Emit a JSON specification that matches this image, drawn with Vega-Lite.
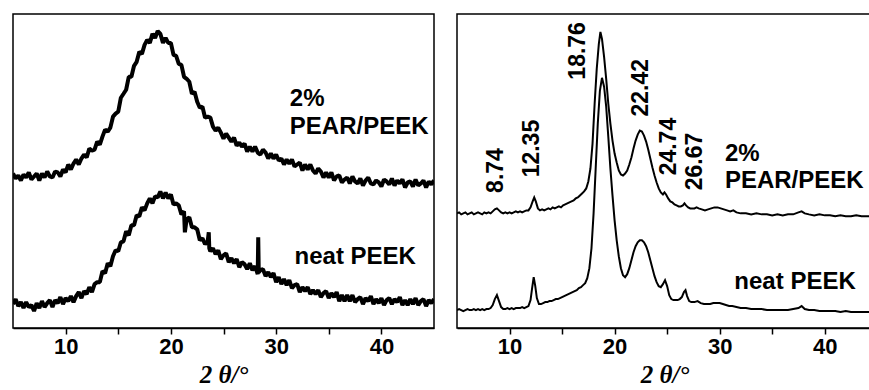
{
  "$schema": "https://vega.github.io/schema/vega-lite/v6.json",
  "background": "white",
  "padding": {"left": 12, "top": 13, "right": 0, "bottom": 0},
  "spacing": 21,
  "config": {
    "view": {"stroke": "black", "strokeWidth": 1.5},
    "axis": {"domainColor": "black", "domainWidth": 1.5, "tickColor": "black", "tickWidth": 1.5, "tickSize": 6, "grid": false,
      "labelFont": "Liberation Sans", "labelFontWeight": "bold", "labelFontSize": 22, "labelColor": "black", "labelPadding": 2,
      "titleFont": "Liberation Serif", "titleFontStyle": "italic", "titleFontWeight": "bold", "titleFontSize": 25, "titleColor": "black", "titlePadding": 5}
  },
  "datasets": {
    "la": [
      {"x":5,"y":155},{"x":5.25,"y":150},{"x":5.5,"y":153},{"x":5.75,"y":148},{"x":6,"y":154},{"x":6.25,"y":151},{"x":6.5,"y":156},{"x":6.75,"y":149},{"x":7,"y":152},{"x":7.25,"y":155},
      {"x":7.5,"y":148},{"x":7.75,"y":155},{"x":8,"y":151},{"x":8.25,"y":157},{"x":8.5,"y":152},{"x":8.75,"y":151},{"x":9,"y":157},{"x":9.25,"y":156},{"x":9.5,"y":152},{"x":9.75,"y":159},
      {"x":10,"y":156},{"x":10.25,"y":164},{"x":10.5,"y":159},{"x":10.75,"y":165},{"x":11,"y":169},{"x":11.25,"y":164},{"x":11.5,"y":170},{"x":11.75,"y":174},{"x":12,"y":171},{"x":12.25,"y":180},
      {"x":12.5,"y":178},{"x":12.75,"y":179},{"x":13,"y":187},{"x":13.25,"y":184},{"x":13.5,"y":192},{"x":13.75,"y":199},{"x":14,"y":197},{"x":14.25,"y":201},{"x":14.5,"y":212},{"x":14.75,"y":215},
      {"x":15,"y":217},{"x":15.25,"y":231},{"x":15.5,"y":235},{"x":15.75,"y":239},{"x":16,"y":252},{"x":16.25,"y":252},{"x":16.5,"y":263},{"x":16.75,"y":267},{"x":17,"y":277},{"x":17.25,"y":275},
      {"x":17.5,"y":284},{"x":17.75,"y":289},{"x":18,"y":286},{"x":18.25,"y":295},{"x":18.5,"y":291},{"x":18.75,"y":298},{"x":19,"y":295},{"x":19.25,"y":286},{"x":19.5,"y":291},{"x":19.75,"y":286},
      {"x":20,"y":286},{"x":20.25,"y":274},{"x":20.5,"y":273},{"x":20.75,"y":265},{"x":21,"y":264},{"x":21.25,"y":252},{"x":21.5,"y":250},{"x":21.75,"y":247},{"x":22,"y":235},{"x":22.25,"y":237},
      {"x":22.5,"y":227},{"x":22.75,"y":221},{"x":23,"y":222},{"x":23.25,"y":211},{"x":23.5,"y":212},{"x":23.75,"y":211},{"x":24,"y":202},{"x":24.25,"y":198},{"x":24.5,"y":201},{"x":24.75,"y":196},
      {"x":25,"y":190},{"x":25.25,"y":195},{"x":25.5,"y":191},{"x":25.75,"y":187},{"x":26,"y":191},{"x":26.25,"y":183},{"x":26.5,"y":186},{"x":26.75,"y":182},{"x":27,"y":185},{"x":27.25,"y":177},
      {"x":27.5,"y":182},{"x":27.75,"y":177},{"x":28,"y":182},{"x":28.25,"y":176},{"x":28.5,"y":174},{"x":28.75,"y":179},{"x":29,"y":176},{"x":29.25,"y":170},{"x":29.5,"y":175},{"x":29.75,"y":170},
      {"x":30,"y":174},{"x":30.25,"y":168},{"x":30.5,"y":170},{"x":30.75,"y":164},{"x":31,"y":169},{"x":31.25,"y":165},{"x":31.5,"y":169},{"x":31.75,"y":162},{"x":32,"y":164},{"x":32.25,"y":166},
      {"x":32.5,"y":158},{"x":32.75,"y":164},{"x":33,"y":159},{"x":33.25,"y":164},{"x":33.5,"y":158},{"x":33.75,"y":155},{"x":34,"y":160},{"x":34.25,"y":157},{"x":34.5,"y":151},{"x":34.75,"y":156},
      {"x":35,"y":151},{"x":35.25,"y":156},{"x":35.5,"y":148},{"x":35.75,"y":152},{"x":36,"y":153},{"x":36.25,"y":146},{"x":36.5,"y":149},{"x":36.75,"y":151},{"x":37,"y":145},{"x":37.25,"y":152},
      {"x":37.5,"y":147},{"x":37.75,"y":145},{"x":38,"y":150},{"x":38.25,"y":143},{"x":38.5,"y":148},{"x":38.75,"y":151},{"x":39,"y":145},{"x":39.25,"y":144},{"x":39.5,"y":148},{"x":39.75,"y":146},
      {"x":40,"y":142},{"x":40.25,"y":149},{"x":40.5,"y":147},{"x":40.75,"y":144},{"x":41,"y":150},{"x":41.25,"y":143},{"x":41.5,"y":148},{"x":41.75,"y":145},{"x":42,"y":149},{"x":42.25,"y":141},
      {"x":42.5,"y":146},{"x":42.75,"y":147},{"x":43,"y":142},{"x":43.25,"y":149},{"x":43.5,"y":143},{"x":43.75,"y":145},{"x":44,"y":148},{"x":44.25,"y":141},{"x":44.5,"y":147},{"x":44.75,"y":144},
      {"x":45,"y":148}
    ],
    "lb": [
      {"x":5,"y":24},{"x":5.25,"y":29},{"x":5.5,"y":22},{"x":5.75,"y":26},{"x":6,"y":20},{"x":6.25,"y":26},{"x":6.5,"y":21},{"x":6.75,"y":23},{"x":7,"y":17},{"x":7.25,"y":25},
      {"x":7.5,"y":20},{"x":7.75,"y":27},{"x":8,"y":21},{"x":8.25,"y":25},{"x":8.5,"y":28},{"x":8.75,"y":21},{"x":9,"y":28},{"x":9.25,"y":25},{"x":9.5,"y":31},{"x":9.75,"y":24},
      {"x":10,"y":30},{"x":10.25,"y":27},{"x":10.5,"y":32},{"x":10.75,"y":26},{"x":11,"y":32},{"x":11.25,"y":36},{"x":11.5,"y":30},{"x":11.75,"y":37},{"x":12,"y":34},{"x":12.25,"y":41},
      {"x":12.5,"y":36},{"x":12.75,"y":44},{"x":13,"y":46},{"x":13.25,"y":46},{"x":13.5,"y":57},{"x":13.75,"y":55},{"x":14,"y":65},{"x":14.25,"y":62},{"x":14.5,"y":72},{"x":14.75,"y":78},
      {"x":15,"y":77},{"x":15.25,"y":86},{"x":15.5,"y":87},{"x":15.75,"y":97},{"x":16,"y":93},{"x":16.25,"y":103},{"x":16.5,"y":103},{"x":16.75,"y":113},{"x":17,"y":112},{"x":17.25,"y":121},
      {"x":17.5,"y":118},{"x":17.75,"y":125},{"x":18,"y":130},{"x":18.25,"y":125},{"x":18.5,"y":132},{"x":18.75,"y":131},{"x":19,"y":137},{"x":19.25,"y":130},{"x":19.5,"y":136},{"x":19.75,"y":130},
      {"x":20,"y":134},{"x":20.25,"y":124},{"x":20.5,"y":125},{"x":20.75,"y":123},{"x":21,"y":114},{"x":21.25,"y":117},{"x":21.33,"y":96},{"x":21.5,"y":109},{"x":21.75,"y":111},{"x":22,"y":101},{"x":22.25,"y":101},
      {"x":22.5,"y":99},{"x":22.75,"y":88},{"x":23,"y":90},{"x":23.25,"y":84},{"x":23.5,"y":87},{"x":23.6,"y":96},{"x":23.65,"y":80},{"x":23.75,"y":77},{"x":24,"y":80},{"x":24.25,"y":74},{"x":24.5,"y":78},{"x":24.75,"y":69},
      {"x":25,"y":73},{"x":25.25,"y":75},{"x":25.5,"y":66},{"x":25.75,"y":70},{"x":26,"y":65},{"x":26.25,"y":69},{"x":26.5,"y":61},{"x":26.75,"y":66},{"x":27,"y":64},{"x":27.25,"y":59},
      {"x":27.5,"y":65},{"x":27.75,"y":58},{"x":28,"y":62},{"x":28.25,"y":54},{"x":28.3,"y":91},{"x":28.35,"y":56},{"x":28.5,"y":58},{"x":28.75,"y":59},{"x":29,"y":52},{"x":29.25,"y":56},{"x":29.5,"y":51},{"x":29.75,"y":55},
      {"x":30,"y":46},{"x":30.25,"y":51},{"x":30.5,"y":44},{"x":30.75,"y":49},{"x":31,"y":43},{"x":31.25,"y":48},{"x":31.5,"y":40},{"x":31.75,"y":43},{"x":32,"y":44},{"x":32.25,"y":36},
      {"x":32.5,"y":41},{"x":32.75,"y":37},{"x":33,"y":41},{"x":33.25,"y":34},{"x":33.5,"y":38},{"x":33.75,"y":34},{"x":34,"y":38},{"x":34.25,"y":31},{"x":34.5,"y":35},{"x":34.75,"y":37},
      {"x":35,"y":30},{"x":35.25,"y":35},{"x":35.5,"y":31},{"x":35.75,"y":36},{"x":36,"y":27},{"x":36.25,"y":33},{"x":36.5,"y":27},{"x":36.75,"y":33},{"x":37,"y":27},{"x":37.25,"y":33},
      {"x":37.5,"y":26},{"x":37.75,"y":29},{"x":38,"y":31},{"x":38.25,"y":24},{"x":38.5,"y":30},{"x":38.75,"y":27},{"x":39,"y":32},{"x":39.25,"y":24},{"x":39.5,"y":29},{"x":39.75,"y":25},
      {"x":40,"y":30},{"x":40.25,"y":23},{"x":40.5,"y":28},{"x":40.75,"y":30},{"x":41,"y":24},{"x":41.25,"y":29},{"x":41.5,"y":26},{"x":41.75,"y":31},{"x":42,"y":23},{"x":42.25,"y":28},
      {"x":42.5,"y":23},{"x":42.75,"y":29},{"x":43,"y":24},{"x":43.25,"y":30},{"x":43.5,"y":23},{"x":43.75,"y":27},{"x":44,"y":29},{"x":44.25,"y":22},{"x":44.5,"y":28},{"x":44.75,"y":25},
      {"x":45,"y":29}
    ],
    "lt": [
      {"x":31.3,"y":230,"t":"2%"},
      {"x":31.3,"y":202,"t":"PEAR/PEEK"},
      {"x":31.75,"y":71,"t":"neat PEEK"}
    ],
    "ra": [
      {"x":5,"y":115},{"x":5.2,"y":116},{"x":5.4,"y":114},{"x":5.6,"y":115},{"x":5.8,"y":116},{"x":6,"y":114},{"x":6.2,"y":115},{"x":6.4,"y":116},{"x":6.6,"y":114},{"x":6.8,"y":115},
      {"x":7,"y":116},{"x":7.2,"y":115},{"x":7.4,"y":114},{"x":7.6,"y":116},{"x":7.8,"y":115},{"x":8,"y":116},{"x":8.2,"y":115},{"x":8.4,"y":117},{"x":8.6,"y":119},{"x":8.8,"y":120},
      {"x":9,"y":118},{"x":9.2,"y":116},{"x":9.4,"y":115},{"x":9.6,"y":116},{"x":9.8,"y":115},{"x":10,"y":116},{"x":10.2,"y":115},{"x":10.4,"y":116},{"x":10.6,"y":117},{"x":10.8,"y":116},
      {"x":11,"y":117},{"x":11.2,"y":116},{"x":11.4,"y":117},{"x":11.6,"y":118},{"x":11.8,"y":118},{"x":12,"y":121},{"x":12.2,"y":127},{"x":12.35,"y":131},{"x":12.5,"y":127},{"x":12.7,"y":120},
      {"x":12.9,"y":118},{"x":13.1,"y":119},{"x":13.3,"y":118},{"x":13.5,"y":119},{"x":13.7,"y":120},{"x":13.9,"y":119},{"x":14.1,"y":121},{"x":14.3,"y":120},{"x":14.5,"y":121},{"x":14.7,"y":122},
      {"x":14.9,"y":121},{"x":15.1,"y":123},{"x":15.3,"y":124},{"x":15.5,"y":125},{"x":15.7,"y":126},{"x":15.9,"y":127},{"x":16.1,"y":128},{"x":16.3,"y":130},{"x":16.5,"y":131},{"x":16.7,"y":133},
      {"x":16.9,"y":135},{"x":17.1,"y":137},{"x":17.3,"y":140},{"x":17.5,"y":147},{"x":17.7,"y":160},{"x":17.9,"y":185},{"x":18.1,"y":225},{"x":18.3,"y":260},{"x":18.5,"y":285},{"x":18.65,"y":297},
      {"x":18.8,"y":290},{"x":19,"y":272},{"x":19.2,"y":250},{"x":19.4,"y":225},{"x":19.6,"y":205},{"x":19.8,"y":188},{"x":20,"y":175},{"x":20.2,"y":166},{"x":20.4,"y":158},{"x":20.6,"y":154},
      {"x":20.8,"y":153},{"x":21,"y":155},{"x":21.2,"y":158},{"x":21.4,"y":164},{"x":21.6,"y":171},{"x":21.8,"y":180},{"x":22,"y":188},{"x":22.2,"y":194},{"x":22.4,"y":198},{"x":22.6,"y":197},
      {"x":22.8,"y":193},{"x":23,"y":187},{"x":23.2,"y":179},{"x":23.4,"y":170},{"x":23.6,"y":161},{"x":23.8,"y":153},{"x":24,"y":146},{"x":24.2,"y":140},{"x":24.4,"y":136},{"x":24.6,"y":134},
      {"x":24.75,"y":136},{"x":24.9,"y":134},{"x":25.1,"y":130},{"x":25.3,"y":127},{"x":25.5,"y":126},{"x":25.7,"y":124},{"x":25.9,"y":123},{"x":26.1,"y":122},{"x":26.3,"y":122},{"x":26.5,"y":123},
      {"x":26.65,"y":125},{"x":26.8,"y":123},{"x":27,"y":121},{"x":27.2,"y":120},{"x":27.4,"y":120},{"x":27.6,"y":120},{"x":27.8,"y":121},{"x":28,"y":120},{"x":28.3,"y":119},{"x":28.6,"y":118},
      {"x":28.9,"y":119},{"x":29.2,"y":120},{"x":29.5,"y":121},{"x":29.8,"y":121},{"x":30.1,"y":120},{"x":30.4,"y":119},{"x":30.7,"y":118},{"x":31,"y":117},{"x":31.3,"y":118},{"x":31.6,"y":116},
      {"x":32,"y":115},{"x":32.5,"y":115},{"x":33,"y":114},{"x":33.5,"y":115},{"x":34,"y":114},{"x":34.5,"y":114},{"x":35,"y":113},{"x":35.5,"y":114},{"x":36,"y":113},{"x":36.5,"y":114},
      {"x":37,"y":114},{"x":37.5,"y":116},{"x":37.8,"y":117},{"x":38.1,"y":115},{"x":38.5,"y":114},{"x":39,"y":113},{"x":39.5,"y":114},{"x":40,"y":113},{"x":40.5,"y":113},{"x":41,"y":112},
      {"x":41.5,"y":113},{"x":42,"y":112},{"x":42.5,"y":112},{"x":43,"y":113},{"x":43.5,"y":112},{"x":44,"y":112},{"x":44.5,"y":112}
    ],
    "rb": [
      {"x":5,"y":18},{"x":5.2,"y":19},{"x":5.4,"y":18},{"x":5.6,"y":17},{"x":5.8,"y":18},{"x":6,"y":19},{"x":6.2,"y":18},{"x":6.4,"y":18},{"x":6.6,"y":19},{"x":6.8,"y":18},
      {"x":7,"y":19},{"x":7.2,"y":18},{"x":7.4,"y":19},{"x":7.6,"y":18},{"x":7.8,"y":19},{"x":8,"y":19},{"x":8.2,"y":20},{"x":8.4,"y":23},{"x":8.6,"y":29},{"x":8.8,"y":33},
      {"x":9,"y":27},{"x":9.2,"y":21},{"x":9.4,"y":19},{"x":9.6,"y":19},{"x":9.8,"y":20},{"x":10,"y":19},{"x":10.2,"y":20},{"x":10.4,"y":19},{"x":10.6,"y":20},{"x":10.8,"y":20},
      {"x":11,"y":20},{"x":11.2,"y":21},{"x":11.4,"y":20},{"x":11.6,"y":21},{"x":11.8,"y":22},{"x":12,"y":28},{"x":12.15,"y":40},{"x":12.3,"y":51},{"x":12.45,"y":42},{"x":12.6,"y":30},
      {"x":12.8,"y":24},{"x":13,"y":24},{"x":13.2,"y":25},{"x":13.4,"y":26},{"x":13.6,"y":26},{"x":13.8,"y":27},{"x":14,"y":27},{"x":14.2,"y":28},{"x":14.4,"y":29},{"x":14.6,"y":29},
      {"x":14.8,"y":30},{"x":15,"y":31},{"x":15.2,"y":32},{"x":15.4,"y":33},{"x":15.6,"y":34},{"x":15.8,"y":35},{"x":16,"y":36},{"x":16.2,"y":37},{"x":16.4,"y":38},{"x":16.6,"y":40},
      {"x":16.8,"y":41},{"x":17,"y":43},{"x":17.2,"y":45},{"x":17.4,"y":50},{"x":17.6,"y":60},{"x":17.8,"y":80},{"x":18,"y":115},{"x":18.2,"y":160},{"x":18.4,"y":205},{"x":18.6,"y":238},
      {"x":18.8,"y":251},{"x":19,"y":242},{"x":19.2,"y":222},{"x":19.4,"y":192},{"x":19.6,"y":160},{"x":19.8,"y":133},{"x":20,"y":108},{"x":20.2,"y":88},{"x":20.4,"y":72},{"x":20.6,"y":60},
      {"x":20.8,"y":53},{"x":21,"y":51},{"x":21.2,"y":54},{"x":21.4,"y":60},{"x":21.6,"y":68},{"x":21.8,"y":76},{"x":22,"y":82},{"x":22.2,"y":86},{"x":22.4,"y":88},{"x":22.6,"y":88},
      {"x":22.8,"y":86},{"x":23,"y":82},{"x":23.2,"y":76},{"x":23.4,"y":68},{"x":23.6,"y":60},{"x":23.8,"y":52},{"x":24,"y":46},{"x":24.2,"y":42},{"x":24.4,"y":41},{"x":24.6,"y":44},
      {"x":24.8,"y":48},{"x":25,"y":42},{"x":25.2,"y":33},{"x":25.4,"y":29},{"x":25.6,"y":28},{"x":25.8,"y":28},{"x":26,"y":28},{"x":26.2,"y":29},{"x":26.4,"y":31},{"x":26.6,"y":36},
      {"x":26.75,"y":38},{"x":26.9,"y":32},{"x":27.1,"y":27},{"x":27.3,"y":26},{"x":27.6,"y":26},{"x":27.9,"y":27},{"x":28.2,"y":25},{"x":28.5,"y":24},{"x":28.8,"y":24},{"x":29.1,"y":24},
      {"x":29.4,"y":25},{"x":29.7,"y":25},{"x":30,"y":25},{"x":30.3,"y":24},{"x":30.6,"y":23},{"x":30.9,"y":22},{"x":31.2,"y":22},{"x":31.6,"y":21},{"x":32,"y":20},{"x":32.5,"y":20},
      {"x":33,"y":19},{"x":33.5,"y":19},{"x":34,"y":19},{"x":34.5,"y":18},{"x":35,"y":18},{"x":35.5,"y":18},{"x":36,"y":18},{"x":36.5,"y":18},{"x":37,"y":19},{"x":37.5,"y":20},
      {"x":37.8,"y":22},{"x":38.1,"y":19},{"x":38.5,"y":18},{"x":39,"y":18},{"x":39.5,"y":17},{"x":40,"y":17},{"x":40.5,"y":17},{"x":41,"y":17},{"x":41.5,"y":16},{"x":42,"y":17},
      {"x":42.5,"y":16},{"x":43,"y":16},{"x":43.5,"y":16},{"x":44,"y":16},{"x":44.5,"y":16}
    ],
    "rt": [
      {"x":30.5,"y":175,"t":"2%"},
      {"x":30.5,"y":147,"t":"PEAR/PEEK"},
      {"x":31.4,"y":46,"t":"neat PEEK"}
    ],
    "rr": [
      {"x":8.67,"y":158,"t":"8.74"},
      {"x":12.1,"y":180,"t":"12.35"},
      {"x":16.52,"y":278,"t":"18.76"},
      {"x":22.52,"y":241,"t":"22.42"},
      {"x":25.14,"y":182,"t":"24.74"},
      {"x":27.62,"y":167,"t":"26.67"}
    ]
  },
  "hconcat": [
    {
      "width": 421,
      "height": 314,
      "encoding": {
        "x": {"field": "x", "type": "quantitative", "scale": {"domain": [5, 45], "nice": false, "zero": false},
          "axis": {"values": [10, 15, 20, 25, 30, 35, 40], "labelExpr": "datum.value % 10 === 0 ? datum.label : ''", "title": "2 θ/°"}},
        "y": {"field": "y", "type": "quantitative", "scale": {"domain": [0, 315], "nice": false}, "axis": null}
      },
      "layer": [
        {"data": {"name": "la"}, "mark": {"type": "line", "color": "black", "strokeWidth": 4, "strokeJoin": "bevel", "clip": true}},
        {"data": {"name": "lb"}, "mark": {"type": "line", "color": "black", "strokeWidth": 4, "strokeJoin": "bevel", "clip": true}},
        {"data": {"name": "lt"}, "mark": {"type": "text", "align": "left", "baseline": "middle", "font": "Liberation Sans", "fontWeight": "bold", "fontSize": 24, "color": "black"},
          "encoding": {"text": {"field": "t"}}}
      ]
    },
    {
      "width": 415,
      "height": 314,
      "encoding": {
        "x": {"field": "x", "type": "quantitative", "scale": {"domain": [5, 44.5], "nice": false, "zero": false},
          "axis": {"values": [10, 15, 20, 25, 30, 35, 40], "labelExpr": "datum.value % 10 === 0 ? datum.label : ''", "title": "2 θ/°"}},
        "y": {"field": "y", "type": "quantitative", "scale": {"domain": [0, 315], "nice": false}, "axis": null}
      },
      "layer": [
        {"data": {"name": "ra"}, "mark": {"type": "line", "color": "black", "strokeWidth": 2, "clip": true}},
        {"data": {"name": "rb"}, "mark": {"type": "line", "color": "black", "strokeWidth": 2, "clip": true}},
        {"data": {"name": "rt"}, "mark": {"type": "text", "align": "left", "baseline": "middle", "font": "Liberation Sans", "fontWeight": "bold", "fontSize": 24, "color": "black"},
          "encoding": {"text": {"field": "t"}}},
        {"data": {"name": "rr"}, "mark": {"type": "text", "align": "center", "baseline": "middle", "angle": 270, "font": "Liberation Sans", "fontWeight": "bold", "fontSize": 23, "color": "black"},
          "encoding": {"text": {"field": "t"}}}
      ]
    }
  ]
}
